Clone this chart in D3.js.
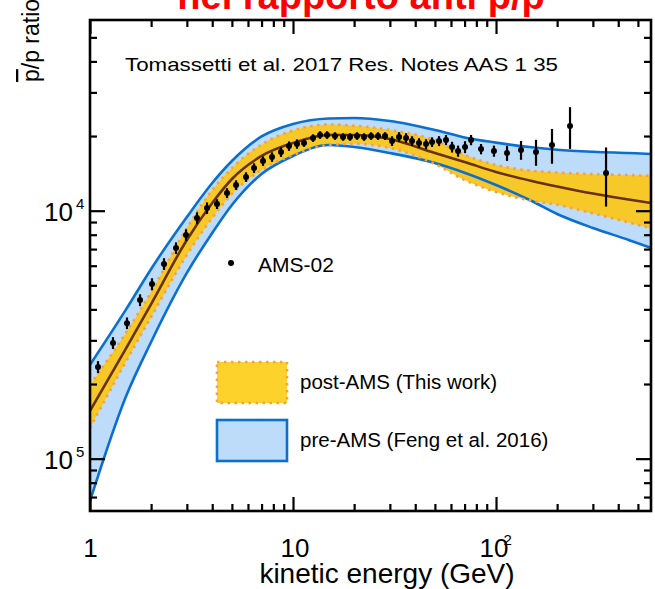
<!DOCTYPE html>
<html>
<head>
<meta charset="utf-8">
<script src="https://cdn.jsdelivr.net/npm/d3@7"></script>
<style>
  body { margin: 0; background: #fff; }
  svg { display: block; }
  text { font-family: "Liberation Sans", Arial, Helvetica, sans-serif; }
</style>
</head>
<body>
<svg id="chart" width="655" height="589"></svg>
<script>
// Kinetic energy grid (GeV) on which the model bands are tabulated
const energyGrid = [1, 1.5, 2, 3, 4, 5, 7, 10, 15, 20, 30, 50, 70, 100, 150, 200, 300, 450, 600];

// pre-AMS uncertainty band (Feng et al. 2016)
const preAmsUpper = [2.39e-5, 3.98e-5, 5.82e-5, 9.43e-5, 1.293e-4, 1.586e-4, 1.992e-4, 2.237e-4, 2.354e-4, 2.365e-4,
                     2.300e-4, 2.115e-4, 1.974e-4, 1.882e-4, 1.801e-4, 1.762e-4, 1.729e-4, 1.708e-4, 1.692e-4];
const preAmsLower = [6.75e-6, 1.773e-5, 2.955e-5, 5.61e-5, 8.13e-5, 1.054e-4, 1.406e-4, 1.662e-4, 1.841e-4, 1.806e-4,
                     1.708e-4, 1.557e-4, 1.423e-4, 1.269e-4, 1.094e-4, 9.70e-5, 8.52e-5, 7.62e-5, 7.01e-5];

// post-AMS uncertainty band (this work) and best-fit curve
const postAmsUpper = [1.982e-5, 3.21e-5, 4.70e-5, 8.52e-5, 1.212e-4, 1.486e-4, 1.849e-4, 2.106e-4, 2.227e-4, 2.202e-4,
                      2.115e-4, 1.919e-4, 1.68e-4, 1.53e-4, 1.448e-4, 1.426e-4, 1.404e-4, 1.393e-4, 1.380e-4];
const postAmsLower = [1.330e-5, 2.454e-5, 3.726e-5, 6.63e-5, 9.35e-5, 1.168e-4, 1.459e-4, 1.677e-4, 1.841e-4, 1.86e-4,
                      1.789e-4, 1.543e-4, 1.330e-4, 1.19e-4, 1.097e-4, 1.057e-4, 9.75e-5, 8.97e-5, 8.44e-5];
const postAmsBest  = [1.557e-5, 2.77e-5, 4.20e-5, 7.62e-5, 1.074e-4, 1.342e-4, 1.662e-4, 1.875e-4, 2.020e-4, 2.020e-4,
                      1.946e-4, 1.708e-4, 1.572e-4, 1.432e-4, 1.318e-4, 1.252e-4, 1.172e-4, 1.109e-4, 1.069e-4];

// AMS-02 antiproton-to-proton ratio measurements
const amsEnergy = [1.095, 1.298, 1.521, 1.764, 2.020, 2.315, 2.652, 2.971, 3.366, 3.771,
                   4.223, 4.730, 5.240, 5.868, 6.426, 7.116, 7.882, 8.728, 9.557, 10.46,
                   11.33, 12.55, 13.59, 14.71, 16.10, 17.64, 19.09, 20.67, 22.38, 24.23,
                   26.23, 28.40, 30.74, 33.29, 36.04, 38.57, 41.76, 45.21, 48.39, 52.39,
                   56.72, 60.72, 65.00, 70.37, 75.33, 84.37, 97.7, 113.3, 132.8, 157.4,
                   188.7, 231.5, 348.3];
const amsRatio = [2.343e-5, 2.93e-5, 3.52e-5, 4.36e-5, 5.06e-5, 6.10e-5, 7.07e-5, 7.98e-5, 9.35e-5, 1.025e-4,
                  1.064e-4, 1.179e-4, 1.269e-4, 1.367e-4, 1.486e-4, 1.586e-4, 1.646e-4, 1.724e-4, 1.823e-4, 1.858e-4,
                  1.875e-4, 1.964e-4, 2.020e-4, 2.020e-4, 2.001e-4, 1.983e-4, 1.983e-4, 2.001e-4, 1.983e-4, 2.001e-4,
                  2.001e-4, 2.001e-4, 1.910e-4, 1.983e-4, 1.964e-4, 1.910e-4, 1.875e-4, 1.858e-4, 1.892e-4, 1.910e-4,
                  1.928e-4, 1.806e-4, 1.740e-4, 1.806e-4, 1.928e-4, 1.773e-4, 1.740e-4, 1.708e-4, 1.757e-4, 1.724e-4,
                  1.841e-4, 2.195e-4, 1.419e-4];
const amsError = [1.3e-6, 1.6e-6, 1.9e-6, 2.4e-6, 2.8e-6, 3.3e-6, 3.8e-6, 4.3e-6, 5.0e-6, 5.5e-6,
                  4.8e-6, 5.3e-6, 5.7e-6, 6.1e-6, 6.6e-6, 7.0e-6, 7.3e-6, 7.6e-6, 8.0e-6, 8.1e-6,
                  6.6e-6, 6.9e-6, 7.1e-6, 7.1e-6, 7.0e-6, 6.9e-6, 6.9e-6, 7.0e-6, 6.9e-6, 7.0e-6,
                  7.1e-6, 7.2e-6, 8.6e-6, 8.9e-6, 8.8e-6, 8.6e-6, 8.4e-6, 8.4e-6, 8.5e-6, 8.8e-6,
                  9.0e-6, 9.0e-6, 9.0e-6, 1.0e-5, 9.1e-6, 8.5e-6, 9.0e-6, 1.20e-5, 1.53e-5, 2.07e-5,
                  2.95e-5, 4.2e-5, 3.8e-5];

// Axis ticks
const xMajorTicks = [1, 10, 100];
const xMinorTicks = [2, 3, 4, 5, 6, 7, 8, 9, 20, 30, 40, 50, 60, 70, 80, 90, 200, 300, 400, 500];
const yMajorTicks = [1e-5, 1e-4];
const yMinorTicks = [7e-6, 8e-6, 9e-6, 2e-5, 3e-5, 4e-5, 5e-5, 6e-5, 7e-5, 8e-5, 9e-5, 2e-4, 3e-4, 4e-4, 5e-4];
const xTickLabels = [{v: 1, base: "1", exp: ""}, {v: 10, base: "10", exp: ""}, {v: 100, base: "10", exp: "2"}];
const yTickLabels = [{v: 1e-4, base: "10", exp: "4"}, {v: 1e-5, base: "10", exp: "5"}];

const plot = {left: 90, right: 651, top: 20, bottom: 511};

const x = d3.scaleLog().domain([1, 580]).range([plot.left, plot.right]);
const y = d3.scaleLog().domain([6.15e-6, 5.875e-4]).range([plot.bottom, plot.top]);

const svg = d3.select("#chart");

svg.append("defs").append("clipPath").attr("id", "plot-clip")
  .append("rect")
  .attr("x", plot.left).attr("y", plot.top)
  .attr("width", plot.right - plot.left).attr("height", plot.bottom - plot.top);

const bandRows = energyGrid.map((e, i) => ({
  e, preHi: preAmsUpper[i], preLo: preAmsLower[i],
  postHi: postAmsUpper[i], postLo: postAmsLower[i], best: postAmsBest[i]
}));

const curve = d3.curveMonotoneX;
const g = svg.append("g").attr("clip-path", "url(#plot-clip)");

const BLUE_FILL = "#bcdcfa", BLUE_LINE = "#0b6fd2";
const GOLD_FILL = "#f6c928", ORANGE_DOT = "#f9a040", BROWN = "#6a3100";

// pre-AMS band
g.append("path").datum(bandRows)
  .attr("fill", BLUE_FILL)
  .attr("d", d3.area().curve(curve).x(d => x(d.e)).y0(d => y(d.preLo)).y1(d => y(d.preHi)));

// post-AMS band
g.append("path").datum(bandRows)
  .attr("fill", GOLD_FILL)
  .attr("d", d3.area().curve(curve).x(d => x(d.e)).y0(d => y(d.postLo)).y1(d => y(d.postHi)));

// band edges
["preHi", "preLo"].forEach(k => {
  g.append("path").datum(bandRows)
    .attr("fill", "none").attr("stroke", BLUE_LINE).attr("stroke-width", 2.6)
    .attr("d", d3.line().curve(curve).x(d => x(d.e)).y(d => y(d[k])));
});
["postHi", "postLo"].forEach(k => {
  g.append("path").datum(bandRows)
    .attr("fill", "none").attr("stroke", ORANGE_DOT).attr("stroke-width", 2.6)
    .attr("stroke-dasharray", "2.5,4.5")
    .attr("d", d3.line().curve(curve).x(d => x(d.e)).y(d => y(d[k])));
});

// best-fit curve
g.append("path").datum(bandRows)
  .attr("fill", "none").attr("stroke", BROWN).attr("stroke-width", 2.6)
  .attr("d", d3.line().curve(curve).x(d => x(d.e)).y(d => y(d.best)));

// AMS-02 data with error bars
const pts = amsEnergy.map((e, i) => ({e, r: amsRatio[i], err: amsError[i]}));
const dataG = g.append("g");
dataG.selectAll("line.err").data(pts).join("line")
  .attr("class", "err")
  .attr("x1", d => x(d.e)).attr("x2", d => x(d.e))
  .attr("y1", d => y(d.r - d.err)).attr("y2", d => y(d.r + d.err))
  .attr("stroke", "#000").attr("stroke-width", 2.2);
dataG.selectAll("circle").data(pts).join("circle")
  .attr("cx", d => x(d.e)).attr("cy", d => y(d.r)).attr("r", 3)
  .attr("fill", "#000");

// Ticks pointing inward on all four sides
function tickAxis(axisFn, values, size, transform) {
  const a = svg.append("g").attr("transform", transform)
    .call(axisFn.tickValues(values).tickSize(-size).tickFormat(""));
  a.select(".domain").remove();
  a.selectAll("line").attr("stroke", "#000").attr("stroke-width", 2.2);
}
tickAxis(d3.axisBottom(x), xMajorTicks, 14, `translate(0,${plot.bottom})`);
tickAxis(d3.axisBottom(x), xMinorTicks, 7, `translate(0,${plot.bottom})`);
tickAxis(d3.axisTop(x), xMajorTicks, 14, `translate(0,${plot.top})`);
tickAxis(d3.axisTop(x), xMinorTicks, 7, `translate(0,${plot.top})`);
tickAxis(d3.axisLeft(y), yMajorTicks, 15, `translate(${plot.left},0)`);
tickAxis(d3.axisLeft(y), yMinorTicks, 7, `translate(${plot.left},0)`);
tickAxis(d3.axisRight(y), yMajorTicks, 15, `translate(${plot.right},0)`);
tickAxis(d3.axisRight(y), yMinorTicks, 7, `translate(${plot.right},0)`);

// Frame
svg.append("rect")
  .attr("x", plot.left).attr("y", plot.top)
  .attr("width", plot.right - plot.left).attr("height", plot.bottom - plot.top)
  .attr("fill", "none").attr("stroke", "#000").attr("stroke-width", 2.6);

// Tick labels
xTickLabels.forEach(t => {
  const txt = svg.append("text")
    .attr("y", plot.bottom + 46)
    .attr("font-size", 26).attr("fill", "#000");
  if (t.exp) {
    txt.attr("x", x(t.v) - 16.5).attr("text-anchor", "start").text(t.base);
    txt.append("tspan").attr("dx", -5).attr("dy", -12).attr("font-size", 15).text(t.exp);
  } else {
    txt.attr("x", x(t.v) + (t.v === 1 ? 0.5 : 2)).attr("text-anchor", "middle").text(t.base);
  }
});
yTickLabels.forEach(t => {
  const txt = svg.append("text")
    .attr("x", 44).attr("y", y(t.v) + 10)
    .attr("font-size", 26).attr("fill", "#000")
    .text(t.base);
  txt.append("tspan").attr("dx", 3).attr("dy", -12).attr("font-size", 15).text(t.exp);
});

// Axis titles
svg.append("text")
  .attr("x", 387).attr("y", 583)
  .attr("text-anchor", "middle").attr("font-size", 28)
  .text("kinetic energy (GeV)");

const yTitle = svg.append("text")
  .attr("transform", "translate(39,82) rotate(-90)")
  .attr("font-size", 23);
yTitle.append("tspan").style("text-decoration", "overline").text("p");
yTitle.append("tspan").text("/p ratio");

// Headline
const head = svg.append("text")
  .attr("x", 361).attr("y", 9)
  .attr("text-anchor", "middle")
  .attr("font-size", 38).attr("font-weight", "bold").attr("fill", "#ff0000");
head.append("tspan").text("nel rapporto anti ");
head.append("tspan").style("text-decoration", "overline").text("p");
head.append("tspan").text("/p");

// Reference note
svg.append("text")
  .attr("x", 125).attr("y", 71)
  .attr("font-family", "'Open Sans', Lato, sans-serif")
  .attr("font-size", 18.5)
  .attr("textLength", 433).attr("lengthAdjust", "spacingAndGlyphs")
  .text("Tomassetti et al. 2017 Res. Notes AAS 1 35");

// Legend
svg.append("circle").attr("cx", 231).attr("cy", 263).attr("r", 3).attr("fill", "#000");
svg.append("text").attr("x", 258).attr("y", 272).attr("font-size", 21).text("AMS-02");

svg.append("rect")
  .attr("x", 217).attr("y", 362).attr("width", 70).attr("height", 41)
  .attr("fill", "#fdd22b").attr("stroke", ORANGE_DOT).attr("stroke-width", 2.6)
  .attr("stroke-dasharray", "2.5,4.5");
svg.append("text").attr("x", 300).attr("y", 389).attr("font-size", 20.5).text("post-AMS (This work)");

svg.append("rect")
  .attr("x", 217).attr("y", 420).attr("width", 70).attr("height", 41)
  .attr("fill", BLUE_FILL).attr("stroke", BLUE_LINE).attr("stroke-width", 2.6);
svg.append("text").attr("x", 300).attr("y", 447).attr("font-size", 20.5).text("pre-AMS (Feng et al. 2016)");
</script>
</body>
</html>
